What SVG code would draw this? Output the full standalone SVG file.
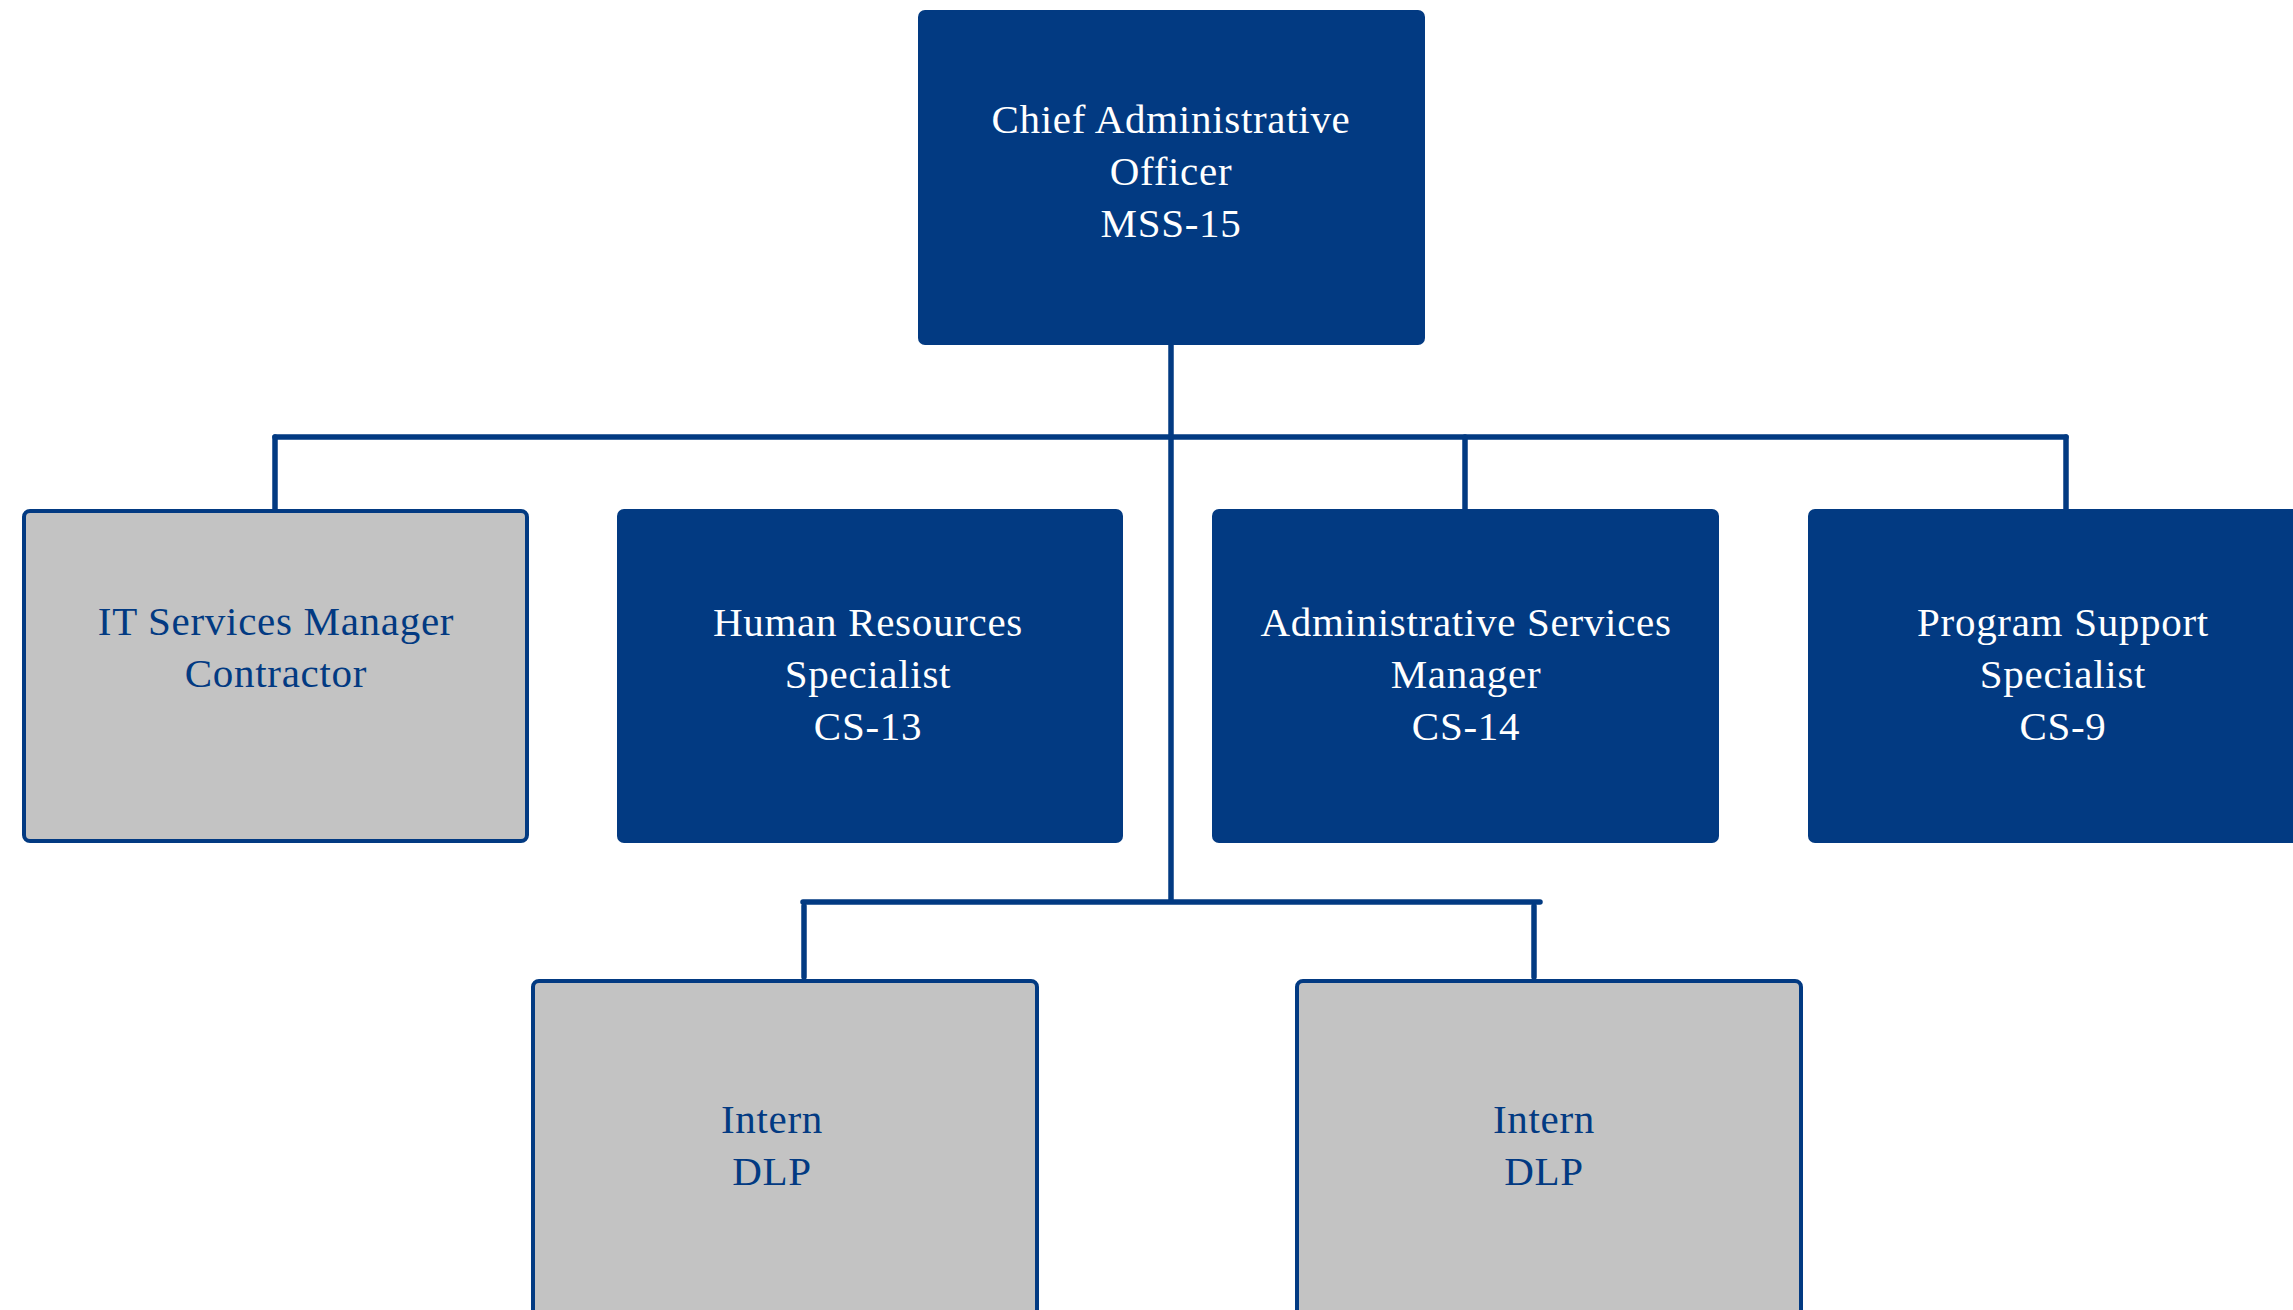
<svg xmlns="http://www.w3.org/2000/svg" width="2293" height="1310" viewBox="0 0 2293 1310">
<style>
.blue{fill:#023a82}
.gray{fill:#c3c3c3;stroke:#023a82;stroke-width:4}
.t{font-family:"Liberation Serif","Times New Roman",serif;font-size:41px;letter-spacing:0.7px;text-anchor:middle}
.w{fill:#ffffff}
.d{fill:#023a82}
.c{fill:none;stroke:#023a82;stroke-width:5.5;stroke-linecap:round}
</style>
<rect width="2293" height="1310" fill="#ffffff"/>
<g id="connectors">
<line class="c" x1="1171" y1="345" x2="1171" y2="901"/>
<line class="c" x1="275" y1="437" x2="2066" y2="437"/>
<line class="c" x1="275" y1="437" x2="275" y2="510"/>
<line class="c" x1="1465" y1="437" x2="1465" y2="509"/>
<line class="c" x1="2066" y1="437" x2="2066" y2="509"/>
<line class="c" x1="803" y1="902" x2="1540" y2="902"/>
<line class="c" x1="804" y1="906" x2="804" y2="977"/>
<line class="c" x1="1534" y1="906" x2="1534" y2="977"/>
</g>
<g id="cao">
<rect class="blue" x="918" y="10" width="507" height="335" rx="7"/>
<text class="t w"><tspan x="1171" y="133">Chief Administrative</tspan><tspan x="1171" y="185">Officer</tspan><tspan x="1171" y="237">MSS-15</tspan></text>
</g>
<g id="it-manager">
<rect class="gray" x="24" y="511" width="503" height="330" rx="6"/>
<text class="t d"><tspan x="276" y="635">IT Services Manager</tspan><tspan x="276" y="687">Contractor</tspan></text>
</g>
<g id="hr-specialist">
<rect class="blue" x="617" y="509" width="506" height="334" rx="7"/>
<text class="t w"><tspan x="868" y="636">Human Resources</tspan><tspan x="868" y="688">Specialist</tspan><tspan x="868" y="740">CS-13</tspan></text>
</g>
<g id="admin-manager">
<rect class="blue" x="1212" y="509" width="507" height="334" rx="7"/>
<text class="t w"><tspan x="1466" y="636">Administrative Services</tspan><tspan x="1466" y="688">Manager</tspan><tspan x="1466" y="740">CS-14</tspan></text>
</g>
<g id="program-specialist">
<rect class="blue" x="1808" y="509" width="507" height="334" rx="7"/>
<text class="t w"><tspan x="2063" y="636">Program Support</tspan><tspan x="2063" y="688">Specialist</tspan><tspan x="2063" y="740">CS-9</tspan></text>
</g>
<g id="intern-1">
<rect class="gray" x="533" y="981" width="504" height="345" rx="6"/>
<text class="t d"><tspan x="772" y="1133">Intern</tspan><tspan x="772" y="1185">DLP</tspan></text>
</g>
<g id="intern-2">
<rect class="gray" x="1297" y="981" width="504" height="345" rx="6"/>
<text class="t d"><tspan x="1544" y="1133">Intern</tspan><tspan x="1544" y="1185">DLP</tspan></text>
</g>
</svg>
